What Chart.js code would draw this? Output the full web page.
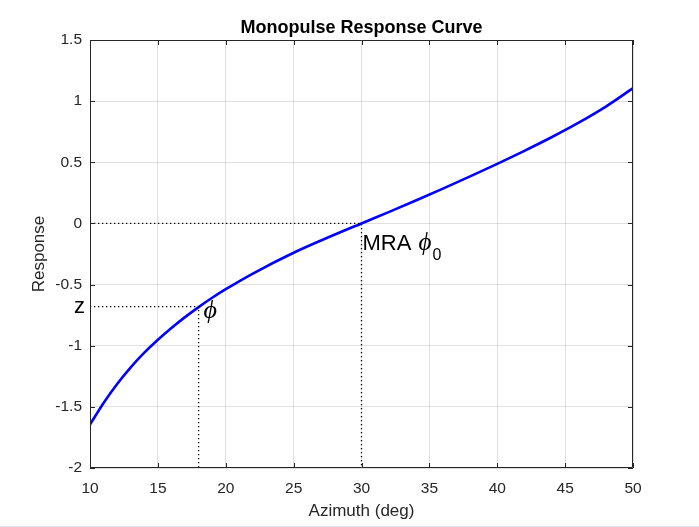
<!DOCTYPE html>
<html>
<head>
<meta charset="utf-8">
<script src="https://cdn.jsdelivr.net/npm/chart.js@4/dist/chart.umd.min.js"></script>
<style>
    html, body { margin: 0; padding: 0; background: #fff; }
    #wrap { width: 699px; height: 527px; }
</style>
</head>
<body>
<div id="wrap"><canvas id="monoChart" width="699" height="527"></canvas></div>
<script>
// Curve
const azimuth = [10, 11, 12, 13, 14, 15, 16, 17, 18, 19, 20, 22, 25, 28, 30, 32, 34, 36, 38, 40, 42, 44, 46, 48, 50];
const response = [-1.645, -1.468, -1.313, -1.177, -1.057, -0.951, -0.855, -0.766, -0.684, -0.608, -0.538, -0.41, -0.24, -0.093, 0, 0.0925, 0.1875, 0.2845, 0.3845, 0.4875, 0.5935, 0.7045, 0.8235, 0.955, 1.106];

// Annotation markers
const zLevel = -0.68;
const phiAz = 18;
const mraAz = 30;

const xTicks = [10, 15, 20, 25, 30, 35, 40, 45, 50];
const yTicks = [-2, -1.5, -1, -0.5, 0, 0.5, 1, 1.5];

const AX = '#262626';
const SANS = "'Liberation Sans', Arial, Helvetica, sans-serif";
const SERIF = "'Liberation Serif', 'DejaVu Serif', serif";

const curve = azimuth.map((a, i) => ({ x: a, y: response[i] }));
const zGuide = [{ x: xTicks[0], y: zLevel }, { x: phiAz, y: zLevel }, { x: phiAz, y: yTicks[0] }];
const mraGuide = [{ x: xTicks[0], y: 0 }, { x: mraAz, y: 0 }, { x: mraAz, y: yTicks[0] }];

// box, inward ticks, titles and text annotations (MATLAB look)
const matlabAxes = {
    id: 'matlabAxes',
    afterDraw(chart) {
        const ctx = chart.ctx;
        const a = chart.chartArea;
        const xs = chart.scales.x, ys = chart.scales.y;
        const tl = 5;

        ctx.save();
        ctx.strokeStyle = AX;
        ctx.lineWidth = 1;
        ctx.beginPath();
        ctx.rect(a.left + 0.5, a.top + 0.5, a.right - a.left - 1, a.bottom - a.top - 1);
        xTicks.forEach(v => {
            const px = Math.round(xs.getPixelForValue(v)) + 0.5;
            ctx.moveTo(px, a.bottom); ctx.lineTo(px, a.bottom - tl);
            ctx.moveTo(px, a.top); ctx.lineTo(px, a.top + tl);
        });
        yTicks.forEach(v => {
            const py = Math.round(ys.getPixelForValue(v)) + 0.5;
            ctx.moveTo(a.left, py); ctx.lineTo(a.left + tl, py);
            ctx.moveTo(a.right, py); ctx.lineTo(a.right - tl, py);
        });
        ctx.stroke();

        // faint figure edge at the bottom
        ctx.fillStyle = '#dde5ee';
        ctx.fillRect(0, chart.height - 1, chart.width, 1);

        const cx = (a.left + a.right) / 2;
        ctx.fillStyle = '#000';
        ctx.textAlign = 'center';
        ctx.textBaseline = 'alphabetic';
        ctx.font = 'bold 18px ' + SANS;
        ctx.fillText('Monopulse Response Curve', cx, 33);

        ctx.fillStyle = AX;
        ctx.font = '17px ' + SANS;
        ctx.fillText('Azimuth (deg)', cx, 516);
        ctx.save();
        ctx.translate(44, (a.top + a.bottom) / 2);
        ctx.rotate(-Math.PI / 2);
        ctx.fillText('Response', 0, 0);
        ctx.restore();

        // z label on the left
        ctx.fillStyle = '#000';
        const zPx = ys.getPixelForValue(zLevel);
        ctx.textAlign = 'right';
        ctx.font = '22px ' + SANS;
        ctx.fillText('z', a.left - 5, zPx + 6);

        // phi next to the curve
        ctx.textAlign = 'left';
        ctx.font = 'italic 26px ' + SERIF;
        ctx.fillText('\u03D5', xs.getPixelForValue(phiAz) + 5, zPx + 11);

        // MRA phi_0
        const mx = xs.getPixelForValue(mraAz) + 1;
        const my = ys.getPixelForValue(0) + 27;
        ctx.font = '22px ' + SANS;
        ctx.fillText('MRA ', mx, my);
        const w = ctx.measureText('MRA ').width;
        ctx.font = 'italic 25px ' + SERIF;
        ctx.fillText('\u03D5', mx + w + 1, my);
        const w2 = ctx.measureText('\u03D5').width;
        ctx.font = '16px ' + SANS;
        ctx.fillText('0', mx + w + w2 + 2, my + 10);
        ctx.restore();
    }
};

const dotted = {
    borderColor: '#000',
    borderWidth: 1.3,
    borderDash: [1.3, 2.7],
    pointRadius: 0,
    tension: 0,
    fill: false
};

new Chart(document.getElementById('monoChart'), {
    type: 'line',
    data: {
        datasets: [
            { ...dotted, label: 'z', data: zGuide },
            { ...dotted, label: 'mra', data: mraGuide },
            {
                label: 'Response',
                data: curve,
                borderColor: '#0000ff',
                borderWidth: 2.6,
                pointRadius: 0,
                cubicInterpolationMode: 'monotone',
                fill: false
            }
        ]
    },
    options: {
        responsive: false,
        animation: false,
        layout: { padding: { top: 40, right: 66, left: 0, bottom: 0 } },
        plugins: {
            legend: { display: false },
            tooltip: { enabled: false }
        },
        scales: {
            x: {
                type: 'linear',
                min: 10,
                max: 50,
                afterFit: s => { s.height = 59; },
                afterBuildTicks: s => { s.ticks = xTicks.map(v => ({ value: v })); },
                border: { display: false },
                grid: { color: 'rgba(38,38,38,0.15)', drawTicks: false },
                ticks: {
                    color: AX,
                    padding: 11,
                    maxRotation: 0,
                    font: { family: SANS, size: 15.5 },
                    callback: v => String(v)
                }
            },
            y: {
                type: 'linear',
                min: -2,
                max: 1.5,
                afterFit: s => { s.width = 90; },
                afterBuildTicks: s => { s.ticks = yTicks.map(v => ({ value: v })); },
                border: { display: false },
                grid: { color: 'rgba(38,38,38,0.15)', drawTicks: false },
                ticks: {
                    color: AX,
                    padding: 8,
                    font: { family: SANS, size: 15.5 },
                    callback: v => String(Math.round(v * 10) / 10)
                }
            }
        }
    },
    plugins: [matlabAxes]
});
</script>
</body>
</html>
